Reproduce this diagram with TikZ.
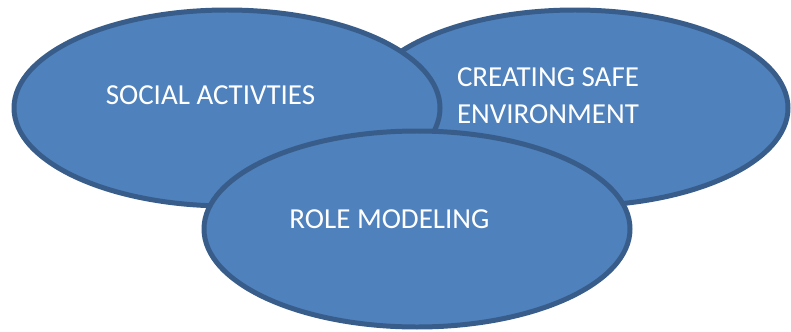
\documentclass[tikz,border=0pt]{standalone}
\usepackage{fontspec}
\setmainfont{Carlito}
\usetikzlibrary{shapes, positioning}
\definecolor{ellfill}{HTML}{4F81BD}
\definecolor{ellline}{HTML}{385D8A}
\tikzset{ell/.style={ellipse, draw=ellline, fill=ellfill, line width=1.42pt,
        minimum width=4.26cm, minimum height=1.96cm, inner sep=0pt},
    label text/.style={text=white, inner sep=0pt, font=\fontsize{8.25}{10.5}\selectfont}}

\begin{document}
\begin{tikzpicture}
        \useasboundingbox (0,0) rectangle (7.91,-3.32);
        \node[ell] (safe) at (5.75,-1.08) {};
        \node[ell, left of=safe, node distance=3.48cm] (social) {};
        \node[ell, below of=social, node distance=1.21cm, xshift=1.90cm] (modeling) {};
        \node[label text] (social-text) at ([xshift=-0.165cm, yshift=0.125cm]social.center) {SOCIAL ACTIVTIES};
        \node[label text, align=left] (safe-text) at ([xshift=-0.27cm, yshift=0.12cm]safe.center) {CREATING SAFE\\ENVIRONMENT};
        \node[label text] (modeling-text) at ([xshift=-0.275cm, yshift=0.10cm]modeling.center) {ROLE MODELING};
    \end{tikzpicture}
\end{document}
